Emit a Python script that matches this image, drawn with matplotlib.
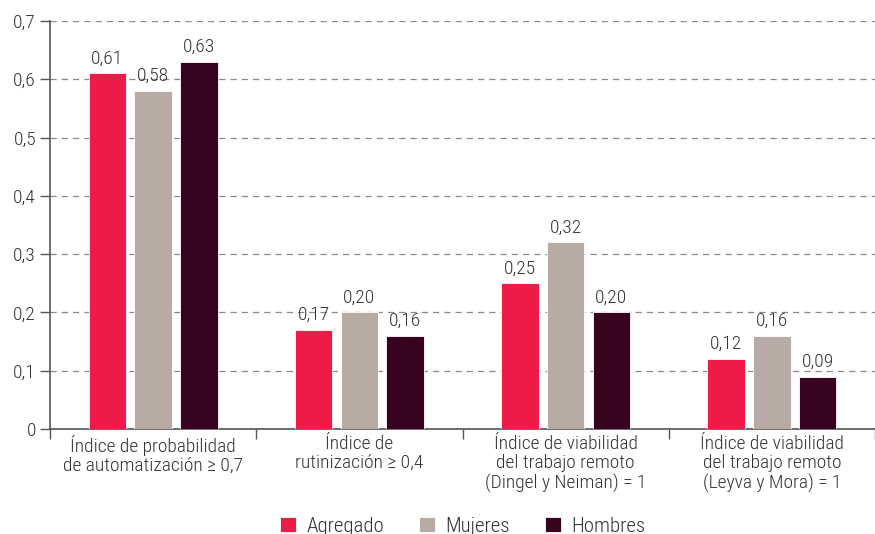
import matplotlib
matplotlib.use("Agg")
import matplotlib.pyplot as plt
from matplotlib import font_manager
import numpy as np

categories = [
    "Índice de probabilidad\nde automatización ≥ 0,7",
    "Índice de\nrutinización ≥ 0,4",
    "Índice de viabilidad\ndel trabajo remoto\n(Dingel y Neiman) = 1",
    "Índice de viabilidad\ndel trabajo remoto\n(Leyva y Mora) = 1",
]
series_names = ["Agregado", "Mujeres", "Hombres"]
agregado = [0.61, 0.17, 0.25, 0.12]
mujeres = [0.58, 0.20, 0.32, 0.16]
hombres = [0.63, 0.16, 0.20, 0.09]
y_ticks = [0, 0.1, 0.2, 0.3, 0.4, 0.5, 0.6, 0.7]

colors = ["#EE1A47", "#B8ABA3", "#380320"]

names = {f.name for f in font_manager.fontManager.ttflist}
family = "Roboto Condensed" if "Roboto Condensed" in names else "Roboto"
plt.rcParams["font.family"] = [family, "DejaVu Sans"]
plt.rcParams["font.weight"] = 300
text_color = "#333333"
fs = 14

fig = plt.figure(figsize=(8.75, 5.34), dpi=100)
ax = fig.add_axes([50 / 875, 1 - 429 / 534, 825 / 875, 408 / 534])

x = np.arange(len(categories))
step = 0.222
width = 0.182
for i, (vals, name) in enumerate(zip([agregado, mujeres, hombres], series_names)):
    pos = x + (i - 1) * step
    ax.bar(pos, vals, width=width, color=colors[i], label=name,
           edgecolor="white", linewidth=0.6, zorder=3)
    for xp, v in zip(pos, vals):
        ax.text(xp, v + 0.01, f"{v:.2f}".replace(".", ","), ha="center",
                va="bottom", fontsize=fs, color=text_color)

ax.set_ylim(0, 0.7)
ax.set_xlim(-0.5, 3.46)
ax.set_yticks(y_ticks)
ax.set_yticklabels([("0" if t == 0 else f"{t:.1f}".replace(".", ",")) for t in y_ticks],
                   fontsize=fs, color=text_color)
ax.yaxis.grid(True, linestyle=(0, (5, 4)), color="#8a8a8a", linewidth=0.9, zorder=0)
ax.set_axisbelow(True)

# boundary ticks between groups, labels centred on each group
ax.set_xticks(np.arange(-0.5, 3.6, 1.0))
ax.set_xticklabels([])
ax.set_xticks(x, minor=True)
ax.set_xticklabels(categories, minor=True, fontsize=fs, color=text_color,
                   linespacing=1.12)
ax.tick_params(axis="x", which="minor", length=0, pad=4)
ax.tick_params(axis="x", which="major", length=7, width=1, color="#555555")
ax.tick_params(axis="y", length=7, width=1, color="#555555", pad=3)

for s in ["top", "right"]:
    ax.spines[s].set_visible(False)
for s in ["left", "bottom"]:
    ax.spines[s].set_color("#555555")
    ax.spines[s].set_linewidth(1.2)

leg = fig.legend(loc="center", bbox_to_anchor=(0.529, 8 / 534), ncol=3,
                 frameon=False, fontsize=15, handlelength=0.75, handleheight=0.75,
                 columnspacing=1.7, handletextpad=0.5, borderpad=0)
for t in leg.get_texts():
    t.set_color(text_color)

fig.savefig("out.png", dpi=100)
